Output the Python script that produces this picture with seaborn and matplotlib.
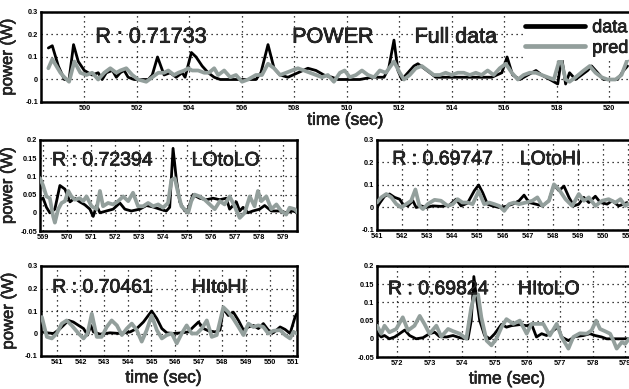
import numpy as np
import pandas as pd
import seaborn as sns
import matplotlib
matplotlib.use("Agg")
import matplotlib.pyplot as plt
import matplotlib.patheffects as pe
from matplotlib.ticker import FuncFormatter, MultipleLocator

# ---------------- data ----------------
# Top panel: Full data
full_t_data = [498.63, 498.78, 499.01, 499.24, 499.42, 499.59, 499.77, 500.00, 500.30, 500.53,
               500.68, 500.84, 501.07, 501.22, 501.37, 501.52, 501.67, 501.90, 502.44, 502.59,
               502.79, 503.04, 503.27, 503.50, 503.73, 503.84, 504.08, 504.26, 504.49, 504.72,
               504.95, 505.18, 506.54, 506.73, 507.00, 507.23, 507.46, 507.76, 508.14, 508.52,
               508.83, 509.13, 509.44, 509.67, 510.50, 510.96, 511.42, 511.60, 511.80, 511.95,
               512.10, 512.33, 512.56, 512.71, 512.94, 513.17, 513.39, 514.31, 515.53, 515.91,
               516.11, 516.32, 516.60, 516.90, 517.21, 517.43, 517.74, 518.04, 518.19, 518.34,
               518.49, 518.72, 518.95, 519.18, 519.33, 519.56, 519.79, 520.32, 520.55, 520.70]
full_v_data = [0.14, 0.15, 0.06, 0.0, 0.0, 0.155, 0.08, 0.04, 0.02, 0.03,
               0.0, 0.03, 0.04, 0.01, 0.03, 0.04, 0.01, 0.0, 0.0, 0.02,
               0.10, 0.02, 0.03, 0.01, 0.03, 0.01, 0.12, 0.10, 0.06, 0.03,
               0.01, 0.0, 0.0, 0.03, 0.155, 0.05, 0.02, 0.01, 0.03, 0.05,
               0.04, 0.02, 0.01, 0.0, 0.0, 0.01, 0.01, 0.05, 0.175, 0.04,
               0.0, 0.03, 0.06, 0.07, 0.05, 0.03, 0.01, 0.01, 0.01, 0.03,
               0.10, 0.02, 0.0, 0.02, 0.04, 0.02, 0.0, -0.02, 0.10, -0.02,
               0.03, 0.0, 0.02, 0.04, 0.06, 0.03, 0.0, 0.0, 0.04, 0.06]
full_t_pred = [498.63, 498.78, 499.09, 499.24, 499.42, 499.62, 499.85, 500.08, 500.30, 500.53,
               500.76, 500.99, 501.22, 501.37, 501.60, 501.83, 502.05, 502.36, 502.59, 502.82,
               503.04, 503.20, 503.42, 503.58, 503.81, 503.96, 504.11, 504.34, 504.57, 504.75,
               504.95, 505.10, 505.33, 505.56, 505.78, 506.01, 506.24, 506.54, 506.77, 507.00,
               507.23, 507.46, 507.69, 507.91, 508.14, 508.37, 508.60, 508.83, 509.06, 509.28,
               509.51, 509.74, 509.92, 510.12, 510.35, 510.58, 510.81, 511.04, 511.26, 511.49,
               511.80, 512.02, 512.18, 512.40, 512.63, 512.86, 513.09, 513.32, 513.55, 513.77,
               514.00, 514.23, 514.46, 514.69, 514.92, 515.14, 515.37, 515.60, 515.83, 516.06,
               516.29, 516.52, 516.74, 516.97, 517.21, 517.43, 517.66, 517.89, 518.14, 518.34,
               518.49, 518.72, 519.03, 519.26, 519.48, 519.71, 519.94, 520.24, 520.47, 520.70]
full_v_pred = [0.05, 0.09, 0.03, 0.01, -0.01, 0.08, 0.03, 0.02, 0.03, 0.0,
               0.03, 0.05, 0.03, 0.04, 0.05, 0.02, 0.0, -0.01, 0.01, 0.03,
               0.03, 0.04, 0.02, 0.03, 0.04, 0.05, 0.04, 0.04, 0.03, 0.03,
               0.05, 0.02, 0.04, 0.01, 0.02, -0.01, 0.0, 0.02, 0.02, 0.07,
               0.05, 0.02, 0.03, 0.04, 0.05, 0.04, 0.03, 0.02, 0.01, 0.02,
               -0.01, 0.03, 0.04, 0.01, 0.02, 0.04, 0.02, 0.01, 0.04, 0.03,
               0.08, 0.03, 0.0, 0.02, 0.05, 0.06, 0.04, 0.02, 0.02, 0.03,
               0.02, 0.03, 0.03, 0.02, 0.03, 0.02, 0.04, 0.02, 0.05, 0.07,
               0.03, 0.0, 0.02, 0.03, 0.03, 0.02, 0.01, 0.0, 0.10, 0.0,
               -0.01, 0.01, 0.04, 0.06, 0.03, 0.01, 0.0, 0.0, 0.02, 0.09]

# LOtoLO
lolo_t_data = [568.88, 569.01, 569.15, 569.29, 569.50, 569.71, 569.92, 570.13, 570.33, 570.54,
               570.75, 570.96, 571.10, 571.24, 571.38, 571.65, 571.93, 572.21, 572.42, 572.69,
               573.04, 573.32, 573.60, 573.88, 574.15, 574.29, 574.43, 574.57, 574.71, 574.92,
               575.06, 575.26, 575.54, 575.82, 576.10, 576.38, 576.65, 576.79, 576.93, 577.07,
               577.21, 577.35, 577.56, 577.76, 578.04, 578.25, 578.53, 578.88, 579.15, 579.43, 579.64]
lolo_v_data = [0.036, 0.04, 0.015, 0.0, 0.01, 0.075, 0.065, 0.03, 0.04, 0.03,
               0.022, 0.01, -0.01, 0.02, 0.0, 0.005, 0.01, 0.027, 0.01, 0.005,
               0.01, 0.02, 0.016, 0.01, 0.005, 0.015, 0.177, 0.09, 0.03, 0.005,
               0.01, 0.05, 0.04, 0.036, 0.04, 0.036, 0.04, 0.01, 0.02, 0.03,
               0.005, 0.015, 0.0, 0.005, 0.01, 0.02, 0.005, 0.005, 0.0, 0.005, 0.0]
lolo_t_pred = [568.88, 569.01, 569.15, 569.29, 569.43, 569.50, 569.64, 569.78, 569.92, 570.06,
               570.19, 570.33, 570.54, 570.68, 570.82, 571.03, 571.24, 571.38, 571.51, 571.72,
               571.93, 572.14, 572.35, 572.56, 572.76, 572.97, 573.18, 573.39, 573.60, 573.81,
               574.01, 574.22, 574.36, 574.50, 574.64, 574.78, 575.06, 575.19, 575.33, 575.54,
               575.75, 575.96, 576.17, 576.38, 576.58, 576.79, 577.00, 577.21, 577.42, 577.63,
               577.83, 577.97, 578.11, 578.32, 578.53, 578.74, 578.94, 579.15, 579.29, 579.50, 579.64]
lolo_v_pred = [0.095, 0.075, 0.045, 0.04, -0.01, -0.027, 0.01, 0.027, 0.032, 0.06,
               0.045, 0.036, 0.04, 0.032, 0.045, 0.018, 0.01, 0.06, 0.018, 0.027,
               0.023, 0.032, 0.045, 0.032, 0.055, 0.018, 0.018, 0.027, 0.018, 0.023,
               0.014, 0.027, 0.09, 0.095, 0.055, 0.018, 0.0, 0.032, 0.05, 0.045,
               0.036, 0.023, 0.01, 0.032, 0.023, 0.045, 0.018, -0.014, 0.0, 0.045,
               0.018, 0.06, 0.032, 0.045, 0.01, 0.023, 0.005, -0.005, 0.014, 0.01, 0.0]

# LOtoHI
lohi_t_data = [541.00, 541.11, 541.30, 541.50, 541.70, 541.90, 542.03, 542.23, 542.43, 542.56,
               542.76, 542.96, 543.22, 543.55, 543.88, 544.15, 544.35, 544.61, 544.88, 545.05,
               545.21, 545.40, 545.60, 545.87, 546.13, 546.40, 546.66, 546.86, 547.06, 547.32,
               547.59, 547.85, 548.05, 548.25, 548.45, 548.65, 548.84, 549.04, 549.24, 549.44,
               549.70, 549.90, 550.17, 550.37, 550.63, 550.83, 550.96]
lohi_v_data = [0.0, 0.02, 0.05, 0.06, 0.045, 0.037, 0.015, 0.007, 0.03, 0.0,
               0.007, 0.0, 0.007, 0.005, 0.01, 0.037, 0.007, 0.02, 0.075, 0.1,
               0.066, 0.015, 0.007, 0.0, 0.005, 0.015, 0.03, 0.055, 0.022, 0.015,
               0.007, 0.03, 0.1, 0.075, 0.095, 0.045, 0.007, 0.015, 0.045, 0.022,
               0.05, 0.022, 0.015, 0.03, 0.007, 0.015, 0.022]
lohi_t_pred = [541.00, 541.17, 541.37, 541.57, 541.77, 541.97, 542.16, 542.36, 542.53, 542.69,
               542.83, 543.02, 543.29, 543.55, 543.82, 544.02, 544.21, 544.41, 544.61, 544.81,
               545.05, 545.27, 545.47, 545.67, 545.87, 546.07, 546.26, 546.46, 546.66, 546.93,
               547.19, 547.39, 547.59, 547.85, 548.05, 548.25, 548.51, 548.78, 549.04, 549.24,
               549.44, 549.70, 549.97, 550.23, 550.50, 550.70, 550.89, 550.99]
lohi_v_pred = [0.022, 0.045, 0.06, 0.045, 0.015, 0.0, 0.015, 0.03, 0.08, 0.007,
               -0.007, 0.015, 0.034, 0.03, 0.007, 0.015, 0.037, 0.022, 0.022, 0.015,
               0.073, 0.015, 0.022, 0.015, 0.007, -0.015, 0.015, 0.022, 0.015, 0.022,
               0.03, 0.045, 0.007, 0.03, 0.103, 0.08, 0.037, 0.007, 0.06, 0.03,
               0.045, 0.007, 0.03, 0.037, 0.022, 0.037, 0.007, 0.015]

# HItoHI
hihi_t_data = [540.37, 540.58, 540.86, 541.07, 541.28, 541.49, 541.70, 541.92, 542.13, 542.30,
               542.44, 542.55, 542.83, 543.25, 543.68, 544.10, 544.38, 544.66, 545.01, 545.23,
               545.44, 545.65, 545.93, 546.28, 546.56, 546.77, 546.99, 547.20, 547.41, 547.69,
               547.90, 548.04, 548.25, 548.46, 548.68, 548.89, 549.10, 549.31, 549.52, 549.73,
               549.94, 550.15, 550.44, 550.65, 550.86, 551.07, 551.14]
hihi_v_data = [0.007, 0.003, 0.0, 0.015, 0.036, 0.058, 0.051, 0.036, 0.022, -0.007,
               0.036, 0.007, -0.003, 0.003, 0.0, 0.007, 0.022, 0.051, 0.1, 0.066,
               0.022, 0.003, 0.0, 0.003, 0.007, 0.029, 0.051, 0.022, 0.012, 0.007,
               0.015, 0.11, 0.08, 0.095, 0.058, 0.015, 0.029, 0.036, 0.022, 0.044,
               0.015, 0.003, 0.029, 0.018, 0.0, 0.073, 0.088]
hihi_t_pred = [540.37, 540.58, 540.79, 541.00, 541.21, 541.42, 541.63, 541.92, 542.13, 542.30,
               542.48, 542.69, 542.90, 543.11, 543.32, 543.54, 543.75, 543.96, 544.17, 544.38,
               544.59, 544.80, 545.01, 545.23, 545.44, 545.65, 545.86, 546.07, 546.28, 546.49,
               546.70, 546.92, 547.13, 547.34, 547.55, 547.76, 548.04, 548.25, 548.46, 548.68,
               548.89, 549.10, 549.31, 549.52, 549.73, 549.94, 550.15, 550.44, 550.65, 550.86,
               551.00, 551.14]
hihi_v_pred = [0.073, -0.015, -0.022, 0.0, 0.044, 0.058, 0.036, 0.0, -0.022, 0.0,
               0.088, -0.015, -0.015, 0.029, 0.058, 0.036, -0.007, 0.022, 0.044, 0.015,
               -0.036, 0.015, 0.08, 0.015, -0.022, -0.007, 0.0, -0.044, 0.0, 0.036,
               0.0, 0.0, 0.022, 0.058, -0.015, -0.007, 0.117, 0.095, 0.066, 0.029,
               -0.007, 0.044, 0.029, 0.036, 0.029, 0.0, 0.012, 0.015, -0.007, -0.022,
               0.007, 0.0]

# HItoLO
hilo_t_data = [571.42, 571.52, 571.62, 571.77, 571.93, 572.08, 572.24, 572.39, 572.59, 572.80,
               573.00, 573.16, 573.31, 573.52, 573.72, 573.93, 574.18, 574.28, 574.36, 574.44,
               574.54, 574.69, 574.85, 575.00, 575.21, 575.36, 575.51, 575.77, 575.98, 576.13,
               576.28, 576.44, 576.59, 576.80, 576.95, 577.05, 577.26, 577.46, 577.72, 577.92,
               578.08, 578.28, 578.43, 579.12]
hilo_v_data = [0.014, 0.005, 0.009, 0.0, 0.005, 0.014, 0.024, 0.009, 0.0, 0.003,
               0.014, 0.018, 0.006, 0.005, 0.009, 0.003, 0.0, 0.05, 0.171, 0.113,
               0.05, 0.009, 0.0, 0.014, 0.04, 0.032, 0.036, 0.039, 0.036, 0.04,
               0.005, 0.014, 0.009, 0.023, 0.033, 0.005, -0.005, 0.006, 0.009, 0.014,
               0.009, 0.005, 0.0, 0.0]
hilo_t_pred = [571.39, 571.52, 571.62, 571.77, 571.98, 572.18, 572.34, 572.54, 572.70, 572.85,
               573.00, 573.21, 573.36, 573.57, 573.72, 573.93, 574.13, 574.28, 574.39, 574.49,
               574.59, 574.75, 574.90, 575.05, 575.21, 575.36, 575.57, 575.77, 575.98, 576.13,
               576.28, 576.49, 576.69, 576.90, 577.05, 577.26, 577.41, 577.61, 577.82, 577.97,
               578.11, 578.23, 578.38, 578.54, 578.64, 578.74, 578.90, 579.00, 579.12]
hilo_v_pred = [0.036, 0.014, 0.036, 0.018, 0.027, 0.059, 0.023, 0.036, 0.063, 0.04,
               0.014, 0.036, 0.006, 0.027, 0.021, 0.014, 0.0, 0.086, 0.122, 0.122,
               0.059, -0.005, -0.018, 0.0, 0.032, 0.054, 0.041, 0.05, 0.014, 0.041,
               0.041, 0.041, 0.009, 0.041, 0.005, -0.027, 0.005, 0.015, 0.014, 0.023,
               0.05, 0.027, 0.021, 0.014, -0.005, -0.027, -0.009, -0.014, 0.0]

r_values = ["0.71733", "0.72394", "0.69747", "0.70461", "0.69824"]
panel_names = ["Full data", "LOtoLO", "LOtoHI", "HItoHI", "HItoLO"]
series_labels = ["data", "pred"]

# ---------------- style ----------------
sns.set_style("white")
plt.rcParams["font.family"] = ["Liberation Sans", "DejaVu Sans"]

C_DATA = "#000000"
C_PRED = "#939f9c"
W, H = 629, 389
HEAVY = [pe.withStroke(linewidth=0.5, foreground="black")]

fig = plt.figure(figsize=(W / 100, H / 100), dpi=100)


def add_ax(x0, x1, y_top, y_bot):
    return fig.add_axes([x0 / W, 1 - y_bot / H, (x1 - x0) / W, (y_bot - y_top) / H])


def fmt(v, pos):
    return "%g" % round(v, 4)


def style(ax, xlim, ylim, ystep, xstep):
    ax.set_xlim(*xlim)
    ax.set_ylim(*ylim)
    ax.xaxis.set_major_locator(MultipleLocator(xstep))
    ax.yaxis.set_major_locator(MultipleLocator(ystep))
    ax.yaxis.set_major_formatter(FuncFormatter(fmt))
    ax.xaxis.set_major_formatter(FuncFormatter(lambda v, p: "%d" % round(v)))
    ax.grid(True, color="black", linestyle=(0, (1, 3)), linewidth=0.9)
    for s in ax.spines.values():
        s.set_visible(True)
        s.set_color("black")
        s.set_linewidth(1.8)
    ax.tick_params(direction="in", length=3, width=0.8, pad=2,
                   labelsize=5.3, colors="black")
    for lab in ax.get_xticklabels() + ax.get_yticklabels():
        lab.set_fontweight("bold")
    ax.set_xlabel("")
    ax.set_ylabel("")


def draw(ax, td, vd, tp, vp, legend=False):
    dfd = pd.DataFrame({"t": td, "v": vd})
    dfp = pd.DataFrame({"t": tp, "v": vp})
    sns.lineplot(data=dfd, x="t", y="v", ax=ax, color=C_DATA, lw=2.0,
                 sort=False, estimator=None, label=series_labels[0] if legend else None,
                 zorder=3)
    sns.lineplot(data=dfp, x="t", y="v", ax=ax, color=C_PRED, lw=2.7,
                 sort=False, estimator=None, label=series_labels[1] if legend else None,
                 zorder=4)


def big_text(ax, x, y, s, size):
    ax.text(x, y, s, transform=ax.transAxes, fontsize=size, va="center", ha="left",
            zorder=6, path_effects=HEAVY)


def label_style(lbl):
    lbl.set_path_effects([pe.withStroke(linewidth=0.4, foreground="black")])


# Top panel
ax0 = add_ax(41, 632, 12, 102)
draw(ax0, full_t_data, full_v_data, full_t_pred, full_v_pred, legend=True)
style(ax0, (498.35, 520.87), (-0.1, 0.3), 0.1, 2)
big_text(ax0, 0.092, 0.72, "R : " + r_values[0], 15.5)
big_text(ax0, 0.425, 0.72, "POWER", 15.5)
big_text(ax0, 0.632, 0.72, panel_names[0], 15.5)
leg = ax0.legend(loc="upper left", bbox_to_anchor=(0.815, 0.95), frameon=True,
                 fontsize=13, handlelength=3.3, handletextpad=0.4, labelspacing=0.2,
                 borderpad=0.15, borderaxespad=0.0)
leg.get_frame().set_facecolor("white")
leg.get_frame().set_edgecolor("none")
leg.get_frame().set_alpha(1)
leg.set_zorder(7)
for ln in leg.get_lines():
    ln.set_linewidth(3.4)
for tx in leg.get_texts():
    tx.set_path_effects([pe.withStroke(linewidth=0.5, foreground="black")])
ax0.set_ylabel("power (W)", fontsize=12)
ax0.yaxis.set_label_coords(-0.044, 0.5)
ax0.set_xlabel("time (sec)", fontsize=12.5)
ax0.xaxis.set_label_coords(0.515, -0.12)
label_style(ax0.yaxis.label)
label_style(ax0.xaxis.label)

# Middle left: LOtoLO
ax1 = add_ax(40, 297, 140, 231)
draw(ax1, lolo_t_data, lolo_v_data, lolo_t_pred, lolo_v_pred)
style(ax1, (568.88, 579.6), (-0.05, 0.2), 0.05, 1)
big_text(ax1, 0.047, 0.77, "R : " + r_values[1], 14)
big_text(ax1, 0.59, 0.77, panel_names[1], 14)
ax1.set_ylabel("power (W)", fontsize=12)
ax1.yaxis.set_label_coords(-0.097, 0.5)
label_style(ax1.yaxis.label)

# Middle right: LOtoHI
ax2 = add_ax(377, 632, 140, 230)
draw(ax2, lohi_t_data, lohi_v_data, lohi_t_pred, lohi_v_pred)
style(ax2, (541.0, 551.16), (-0.1, 0.3), 0.1, 1)
big_text(ax2, 0.06, 0.78, "R : " + r_values[2], 14)
big_text(ax2, 0.56, 0.78, panel_names[2], 14)

# Bottom left: HItoHI
ax3 = add_ax(40.7, 296.7, 266, 356)
draw(ax3, hihi_t_data, hihi_v_data, hihi_t_pred, hihi_v_pred)
style(ax3, (540.32, 551.14), (-0.1, 0.3), 0.1, 1)
big_text(ax3, 0.045, 0.755, "R : " + r_values[3], 14)
big_text(ax3, 0.59, 0.755, panel_names[3], 14)
ax3.set_ylabel("power (W)", fontsize=12)
ax3.yaxis.set_label_coords(-0.097, 0.5)
ax3.set_xlabel("time (sec)", fontsize=12.5)
ax3.xaxis.set_label_coords(0.48, -0.16)
label_style(ax3.yaxis.label)
label_style(ax3.xaxis.label)

# Bottom right: HItoLO
ax4 = add_ax(377, 632, 266, 357)
draw(ax4, hilo_t_data, hilo_v_data, hilo_t_pred, hilo_v_pred)
style(ax4, (571.39, 579.21), (-0.05, 0.2), 0.05, 1)
big_text(ax4, 0.043, 0.74, "R : " + r_values[4], 14)
big_text(ax4, 0.553, 0.74, panel_names[4], 14)
ax4.set_xlabel("time (sec)", fontsize=12.5)
ax4.xaxis.set_label_coords(0.51, -0.16)
label_style(ax4.xaxis.label)

fig.savefig("out.png", dpi=100)
